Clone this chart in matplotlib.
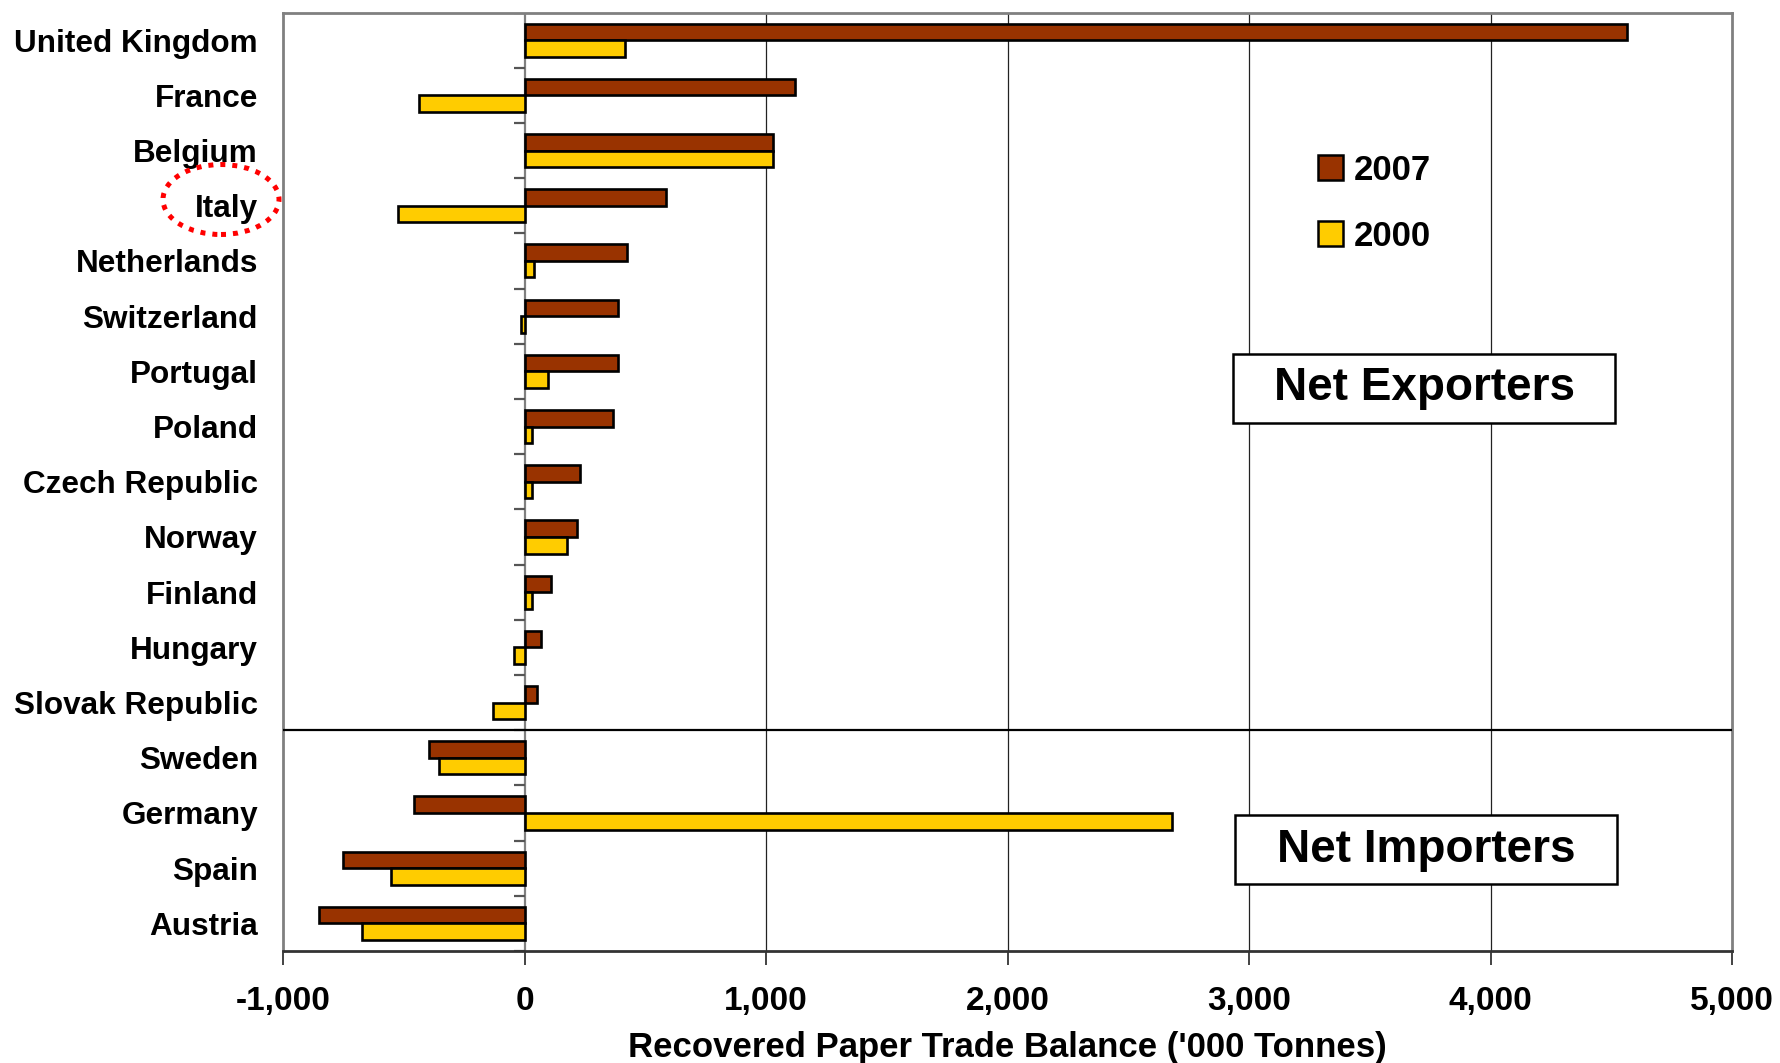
import matplotlib
matplotlib.use("Agg")
import matplotlib.pyplot as plt
from matplotlib.patches import Rectangle, Ellipse, Patch

plt.rcParams['font.family'] = ['Liberation Sans', 'DejaVu Sans']
plt.rcParams['font.weight'] = 'bold'

# Recovered paper trade balance, '000 tonnes
countries = ["United Kingdom", "France", "Belgium", "Italy", "Netherlands",
             "Switzerland", "Portugal", "Poland", "Czech Republic", "Norway",
             "Finland", "Hungary", "Slovak Republic", "Sweden", "Germany",
             "Spain", "Austria"]
balance_2007 = [4565, 1122, 1031, 587, 425, 387, 387, 366, 228, 218,
                109, 70, 50, -395, -456, -751, -851]
balance_2000 = [418, -435, 1031, -524, 40, -14, 98, 29, 29, 178,
                29, -43, -131, -354, 2683, -554, -673]
n_exporters = 13
series_labels = ["2007", "2000"]
x_ticks = [-1000, 0, 1000, 2000, 3000, 4000, 5000]
x_label = "Recovered Paper Trade Balance ('000 Tonnes)"
group_labels = ["Net Exporters", "Net Importers"]

col_2007 = "#993300"
col_2000 = "#FFCC00"

fig = plt.figure(figsize=(17.8, 10.63), dpi=100)
ax = fig.add_axes([283 / 1780, 1 - 951 / 1063, 1449 / 1780, 938.5 / 1063])

ypos = list(range(len(countries)))
bh = 0.3
ax.barh([y - bh / 2 for y in ypos], balance_2007, height=bh, color=col_2007,
        edgecolor="black", linewidth=1.9, zorder=3)
ax.barh([y + bh / 2 for y in ypos], balance_2000, height=bh, color=col_2000,
        edgecolor="black", linewidth=1.9, zorder=3)

ax.set_xlim(x_ticks[0], x_ticks[-1])
ax.set_ylim(len(countries) - 0.5, -0.5)

# vertical gridlines
for xv in x_ticks[2:-1]:
    ax.axvline(xv, color="#222222", linewidth=0.9, zorder=1)

# category axis crossing at zero, with ticks between categories
ax.axvline(0, color="#808080", linewidth=1.6, zorder=2)
tick_len = 42
bounds = [y - 0.5 for y in ypos] + [len(countries) - 0.5]
ax.hlines(bounds, -tick_len, 0, color="#555555", linewidth=1.6, zorder=2)

# divider between exporters and importers
ax.axhline(n_exporters - 0.5, color="black", linewidth=1.6, zorder=4)

for side in ["left", "top", "right"]:
    ax.spines[side].set_color("#808080")
    ax.spines[side].set_linewidth(2)
ax.spines["bottom"].set_color("#333333")
ax.spines["bottom"].set_linewidth(2)

ax.set_yticks(ypos)
ax.set_yticklabels(countries, fontsize=22.7, fontweight="bold")
ax.tick_params(axis="y", length=0, pad=18)

ax.set_xticks(x_ticks)
ax.set_xticklabels([f"{v:,}" for v in x_ticks], fontsize=24, fontweight="bold")
ax.tick_params(axis="x", direction="out", length=10, width=1.2,
               color="#222222", pad=15)
ax.set_xlabel(x_label, fontsize=25, fontweight="bold", labelpad=10)

# legend
handles = [Patch(facecolor=col_2007, edgecolor="black", linewidth=1.8),
           Patch(facecolor=col_2000, edgecolor="black", linewidth=1.8)]
leg = fig.legend(handles, series_labels, loc="upper left",
                 bbox_to_anchor=(1318 / 1780, 1 - 154 / 1063),
                 frameon=False, handlelength=0.72,
                 handleheight=0.72, handletextpad=0.3, labelspacing=0.95,
                 borderpad=0, borderaxespad=0,
                 prop={"weight": "bold", "size": 25})

# group boxes
box_w, box_h = 382 / 1449, 69 / 938.5
for label, (cx, cy) in zip(group_labels, [(0.7875, 0.5994), (0.789, 0.1081)]):
    ax.add_patch(Rectangle((cx - box_w / 2, cy - box_h / 2), box_w, box_h,
                           transform=ax.transAxes, facecolor="white",
                           edgecolor="black", linewidth=1.8, zorder=5))
    ax.text(cx, cy, label, transform=ax.transAxes, ha="center", va="center",
            fontsize=33, fontweight="bold", zorder=6)

# highlight ring around Italy
fig.patches.append(Ellipse((221 / 1780, 1 - 199.5 / 1063), 116 / 1780, 70 / 1063,
                           transform=fig.transFigure, fill=False,
                           edgecolor="#FF0000", linewidth=3.6,
                           linestyle=(0, (1.0, 1.4))))

fig.savefig("out.png", dpi=100)
